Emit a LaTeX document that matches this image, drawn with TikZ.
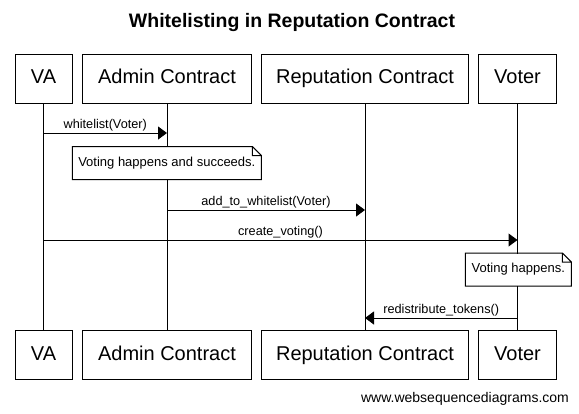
\documentclass[tikz,border=0pt]{standalone}
\usepackage{fontspec}
\setmainfont{Liberation Sans}
\usetikzlibrary{arrows.meta}
\begin{document}
\begin{tikzpicture}[x=1pt,y=-1pt,line width=1pt,
  actor/.style={draw,fill=white,minimum height=49pt,inner sep=0pt,
    text height=14.5pt,text depth=4pt,font=\fontsize{20}{24}\selectfont},
  msg/.style={-{Triangle[length=9pt,width=13pt]}},
  lbl/.style={above,inner sep=1.5pt,font=\fontsize{12.7}{15}\selectfont},
  note/.style={fill=white,minimum height=32pt,inner sep=0pt,
    text height=9.5pt,text depth=3pt,font=\fontsize{13}{15}\selectfont}]
  \useasboundingbox (0,0) rectangle (579,413);
  \node[font=\bfseries\fontsize{19.5}{23}\selectfont] (title) at (292,22)
    {Whitelisting in Reputation Contract};
  % participants, top and bottom, with lifelines
  \foreach \name/\x/\w/\txt in {va/43.5/57/VA, admin/167/169/Admin Contract,
      rep/365/207/Reputation Contract, voter/517.5/78/Voter} {
    \node[actor,minimum width=\w pt] (t\name) at (\x,78.5) {\txt};
    \node[actor,minimum width=\w pt] (b\name) at (\x,355) {\txt};
    \draw (t\name) -- (b\name);
  }
  % messages
  \draw[msg] (tva |- 0,133) -- node[lbl] {whitelist(Voter)} (tadmin |- 0,133);
  \draw[msg] (tadmin |- 0,210) -- node[lbl] {add\_to\_whitelist(Voter)} (trep |- 0,210);
  \draw[msg] (tva |- 0,240) -- node[lbl] {create\_voting()} (tvoter |- 0,240);
  \draw[msg] (tvoter |- 0,318) -- node[lbl] {redistribute\_tokens()} (trep |- 0,318);
  % notes
  \node[note,minimum width=188pt] (succeeds) at (166.8,163) {Voting happens and succeeds.};
  \node[note,minimum width=105pt] (happens) at (518.3,269.5) {Voting happens.};
  \foreach \n in {succeeds,happens}
    \draw (\n.south west) -- (\n.north west) -- ([xshift=-9pt]\n.north east)
      -- ([yshift=-9pt]\n.north east) -- (\n.south east) -- cycle
      ([xshift=-9pt]\n.north east) |- ([yshift=-9pt]\n.north east);
  \node[font=\fontsize{14}{16}\selectfont] (web) at (465,399) {www.websequencediagrams.com};
\end{tikzpicture}
\end{document}
